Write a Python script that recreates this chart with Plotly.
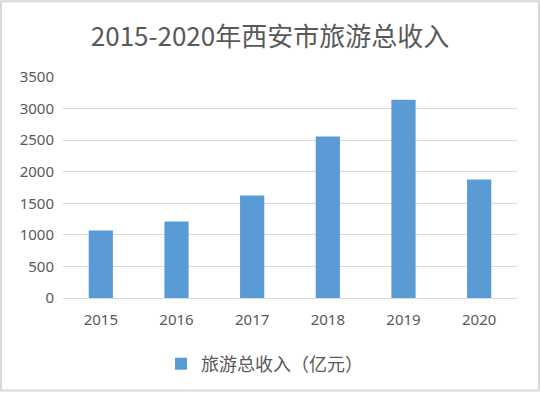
import plotly.graph_objects as go

years = ["2015", "2016", "2017", "2018", "2019", "2020"]
revenue = [1070, 1212, 1623, 2556, 3141, 1876]
series_name = "旅游总收入（亿元）"
title_text = "2015-2020年西安市旅游总收入"
y_ticks = [0, 500, 1000, 1500, 2000, 2500, 3000, 3500]

W, H = 540, 393
L, R, T, B = 63, 23, 77, 94
pw, ph = W - L - R, H - T - B

fig = go.Figure()
fig.add_trace(go.Bar(x=years, y=revenue, name=series_name,
                     marker=dict(color="#5b9bd5", line=dict(width=0))))

tick_font = dict(size=15, color="#595959", family="'Noto Sans', sans-serif")
fig.update_layout(
    width=W, height=H,
    margin=dict(l=L, r=R, t=T, b=B),
    paper_bgcolor="white", plot_bgcolor="white",
    bargap=0.68,
    font=dict(family="'Noto Sans', 'Noto Sans CJK SC', sans-serif", color="#595959", size=15),
    title=dict(text=title_text, x=0.5, xanchor="center", y=1 - 37 / H, yanchor="middle",
               font=dict(size=26, color="#595959", family="'Noto Sans CJK SC', sans-serif")),
    xaxis=dict(showgrid=False, showline=True, linecolor="#d9d9d9", linewidth=1,
               ticks="", tickfont=tick_font, ticklabelstandoff=8),
    yaxis=dict(range=[0, 3500], tickvals=y_ticks, showgrid=True, gridcolor="#d9d9d9",
               gridwidth=1, zeroline=False, ticks="", tickfont=tick_font,
               ticklabelstandoff=8),
    showlegend=True,
    legend=dict(orientation="h", x=(161 - L) / pw, xanchor="left", y=(T + ph - 364) / ph, yanchor="middle",
                font=dict(size=18, color="#595959", family="'Noto Sans CJK SC', sans-serif"),
                itemwidth=30),
    shapes=[dict(type="rect", xref="paper", yref="paper",
                 x0=(1 - L) / pw, x1=(W - 1 - L) / pw,
                 y0=(T + ph - (H - 1)) / ph, y1=(T + ph - 1) / ph,
                 line=dict(color="#d9d9d9", width=2), layer="below")],
)

fig.write_html("out.html", config={"displayModeBar": False},
               post_script="document.body.style.margin='0';document.body.style.overflow='hidden';")
